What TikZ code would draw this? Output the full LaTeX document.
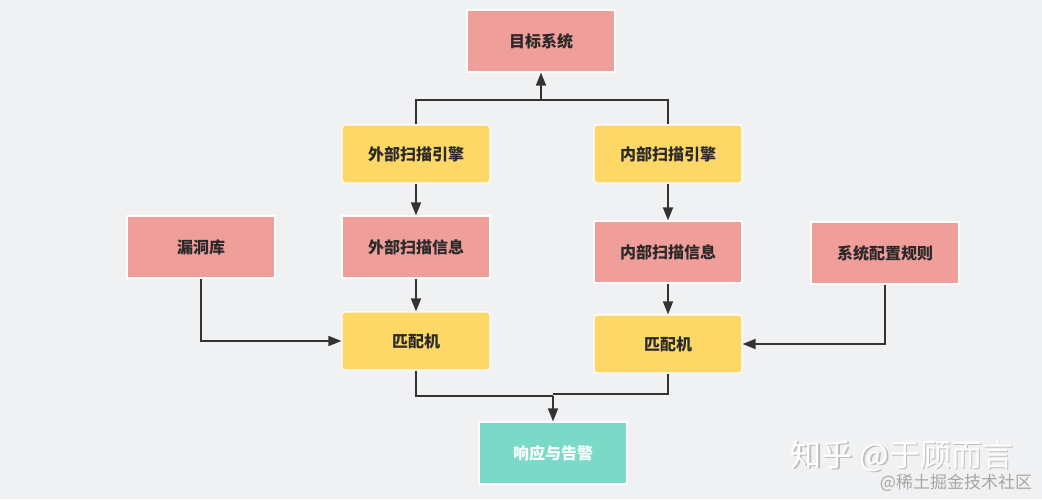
\documentclass[tikz,border=0pt]{standalone}
\usepackage{fontspec}
\setmainfont{Noto Sans CJK SC}
\newfontfamily\cjk{Noto Sans CJK SC}
\usetikzlibrary{arrows.meta}
\definecolor{bgc}{HTML}{F0F1F3}
\definecolor{redbox}{HTML}{F09E99}
\definecolor{yelbox}{HTML}{FDD866}
\definecolor{tealbox}{HTML}{7BD9C8}
\definecolor{linec}{HTML}{333333}
\definecolor{txtc}{HTML}{2A2A2A}
\tikzset{
  box/.style={minimum width=148pt, minimum height=62pt, draw=white, line width=1.2pt, inner sep=0pt, font=\cjk\fontsize{16}{19}\selectfont\bfseries, text=txtc},
  redb/.style={box, fill=redbox},
  yelb/.style={box, fill=yelbox, rounded corners=3pt, minimum height=58pt},
  tealb/.style={box, fill=tealbox, text=white},
  conn/.style={draw=linec, line width=1.5pt, -{Triangle[length=13pt,width=10pt]}},
  plain/.style={draw=linec, line width=1.5pt},
}
\begin{document}
\begin{tikzpicture}[x=1pt,y=-1pt]
\fill[bgc] (0,0) rectangle (1042,499);
\useasboundingbox (0,0) rectangle (1042,499);
\node[redb] (target) at (541,41) {目标系统};
\node[yelb] (extE) at (416,154) {外部扫描引擎};
\node[yelb] (intE) at (668,154) {内部扫描引擎};
\node[redb] (extI) at (416,247) {外部扫描信息};
\node[redb] (intI) at (668,252) {内部扫描信息};
\node[redb] (vuln) at (201,247) {漏洞库};
\node[redb] (rule) at (885,253) {系统配置规则};
\node[yelb] (matL) at (416,341) {匹配机};
\node[yelb] (matR) at (668,344) {匹配机};
\node[tealb] (resp) at (553,453) {响应与告警};
\coordinate (topj) at (541,100);
\coordinate (botj) at (553,396);
% to target
\draw[plain] (extE.north) |- (topj);
\draw[plain] (intE.north) |- (topj);
\draw[conn] (topj) -- (target.south);
% engines to info
\draw[conn] (extE) -- (extI);
\draw[conn] (intE) -- (intI);
\draw[conn] (extI) -- (matL);
\draw[conn] (intI) -- (matR);
% side inputs
\draw[conn] (vuln.south) |- (matL.west);
\draw[conn] (rule.south) |- (matR.east);
% to response
\draw[plain] (matL.south) |- (botj);
\draw[plain] (matR.south) |- ([yshift=2pt]botj);
\draw[conn] (botj) -- (resp.north);
% watermark
\node[font=\cjk\fontsize{31}{33}\selectfont, text=black!25] (wm1s) at (903.5,457.5) {知乎 @于顾而言};
\node[font=\cjk\fontsize{31}{33}\selectfont, text=white] (wm1) at (902,456) {知乎 @于顾而言};
\node[font=\cjk\fontsize{17}{19}\selectfont, text=black!35] (wm2) at (956,483) {@稀土掘金技术社区};
\end{tikzpicture}
\end{document}
